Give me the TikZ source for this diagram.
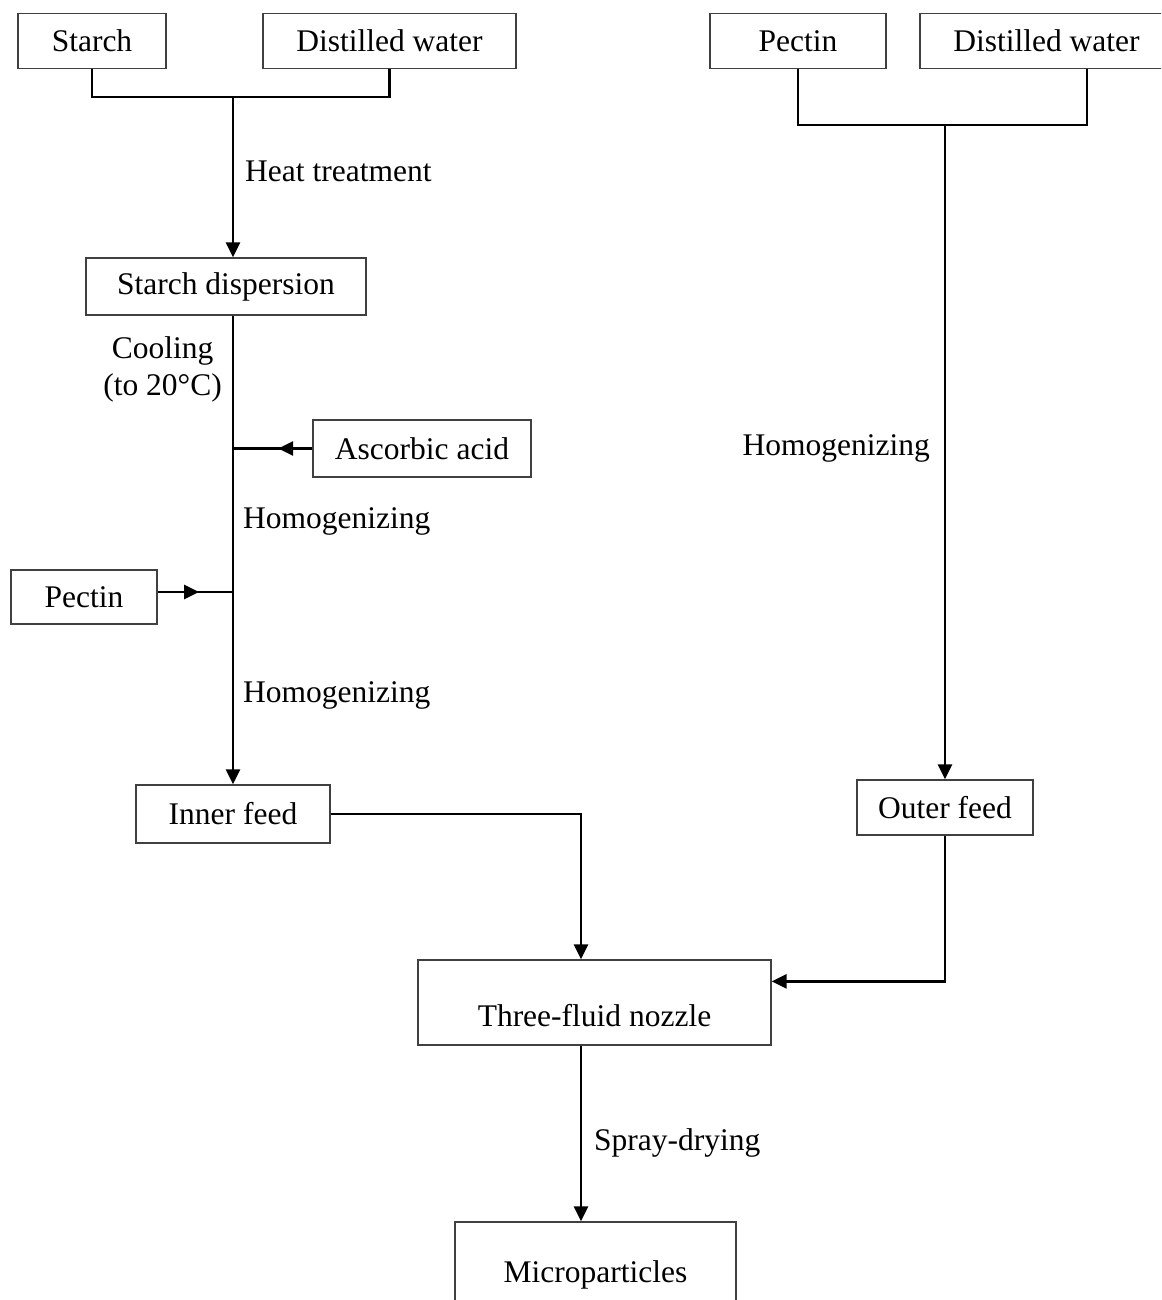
\documentclass[tikz,border=0pt]{standalone}
\usepackage{fontspec}
\setmainfont{Liberation Serif}
\usetikzlibrary{arrows.meta,decorations.markings}
\begin{document}
\begin{tikzpicture}[x=1pt,y=-1pt,
  font=\fontsize{31.5}{37}\selectfont,
  box/.style={draw=black!75, line width=1.3pt, inner sep=0pt, minimum height=#1, anchor=center},
  box/.default=55pt,
  conn/.style={draw=black, line width=2.6pt},
  arr/.style={conn, -{Triangle[length=15pt,width=14pt]}},
  midarr/.style={conn, postaction={decorate}, decoration={markings, mark=at position #1 with {\arrow{Triangle[length=15pt,width=14pt]}}}},
  lbl/.style={inner sep=0pt}]
\useasboundingbox (0,0) rectangle (1161,1300);
\clip (0,0) rectangle (1161,1300);
% boxes
\node[box, minimum width=148pt] (starch) at (92,41) {Starch};
\node[box, minimum width=253pt] (dw1) at (389.5,41) {Distilled water};
\node[box, minimum width=176pt] (pectinR) at (798,41) {Pectin};
\node[box, minimum width=253pt] (dw2) at (1046.5,41) {Distilled water};
\node[box=57pt, minimum width=280pt] (sdisp) at (226,286.5) {Starch dispersion};
\node[box=57pt, minimum width=218pt] (ascorbic) at (422,448.5) {Ascorbic acid};
\node[box=54pt, minimum width=146pt] (pectinL) at (84,597) {Pectin};
\node[box=58pt, minimum width=194pt] (inner) at (233,814) {Inner feed};
\node[box=55pt, minimum width=176pt] (outer) at (945,807.5) {Outer feed};
\node[box=85pt, minimum width=353pt, text height=47pt, text depth=0pt] (nozzle) at (594.5,1002.5) {Three-fluid nozzle};
\node[box=96pt, minimum width=281pt, text height=32pt, text depth=7pt] (micro) at (595.5,1270) {Microparticles};
% junction coordinates
\coordinate (j1) at (233,97);
\coordinate (j2) at (945,125);
\coordinate (j2r) at (1087,125);
\coordinate (a1) at (581,812);
% left top merge
\draw[conn] (starch.south) |- (j1) -| (dw1.south);
\draw[arr] (j1) -- (j1 |- sdisp.north);
\draw[arr] (sdisp.south -| j1) -- (inner.north);
\draw[midarr=0.43] (ascorbic.west) -- (ascorbic.west -| j1);
\draw[midarr=0.55] ([yshift=5pt]pectinL.east) -- ([yshift=5pt]pectinL.east -| j1);
% right top merge
\draw[conn] (pectinR.south) |- (j2r) -- (dw2.south -| j2r);
\draw[arr] (j2) -- (outer.north);
% feeds to nozzle
\draw[arr] (inner.east) -| (a1 |- nozzle.north);
\draw[arr] (outer.south) |- ([yshift=-22pt]nozzle.north east);
\draw[arr] (nozzle.south -| a1) -- (micro.north -| a1);
% labels
\node[lbl, anchor=west] (lheat) at (245,171) {Heat treatment};
\node[lbl, anchor=east, align=center] (lcool) at (222,369) {Cooling\\(to 20°C)};
\node[lbl, anchor=west] (lhom1) at (243,521) {Homogenizing};
\node[lbl, anchor=west] (lhom2) at (243,695) {Homogenizing};
\node[lbl, anchor=east] (lhom3) at (930,448) {Homogenizing};
\node[lbl, anchor=west] (lspray) at (594,1143) {Spray-drying};
\end{tikzpicture}
\end{document}
